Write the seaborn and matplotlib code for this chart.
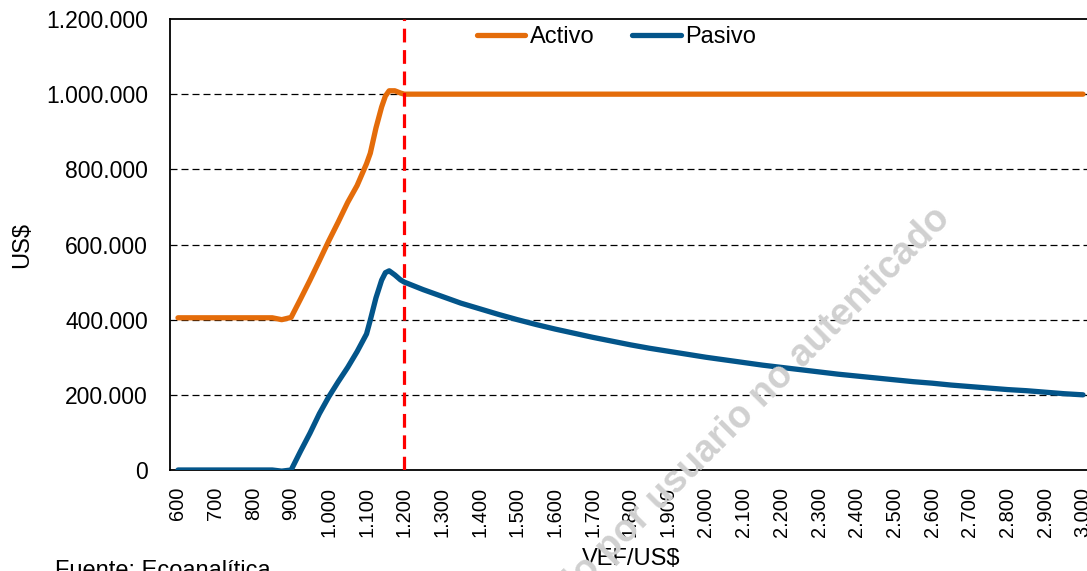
import numpy as np
import pandas as pd
import matplotlib
matplotlib.use("Agg")
import matplotlib.pyplot as plt
from matplotlib.ticker import FuncFormatter, FixedLocator
from matplotlib.lines import Line2D
import seaborn as sns

# ------------------ Datos ------------------
tipo_cambio = [600, 650, 700, 750, 800, 850, 875, 900, 925, 950, 975, 1000, 1025, 1050,
               1075, 1100, 1110, 1125, 1140, 1150, 1160, 1175, 1190, 1200, 1250, 1300,
               1350, 1400, 1450, 1500, 1550, 1600, 1650, 1700, 1750, 1800, 1850, 1900,
               1950, 2000, 2050, 2100, 2150, 2200, 2250, 2300, 2350, 2400, 2450, 2500,
               2550, 2600, 2650, 2700, 2750, 2800, 2850, 2900, 2950, 3000]

activo = [405000, 405000, 405000, 405000, 405000, 405000, 400000, 406000, 455000, 505000,
          557000, 610000, 660000, 712000, 757000, 815000, 843000, 910000, 966000, 995000,
          1009000, 1009000, 1003000, 1000000, 1000000, 1000000, 1000000, 1000000, 1000000,
          1000000, 1000000, 1000000, 1000000, 1000000, 1000000, 1000000, 1000000, 1000000,
          1000000, 1000000, 1000000, 1000000, 1000000, 1000000, 1000000, 1000000, 1000000,
          1000000, 1000000, 1000000, 1000000, 1000000, 1000000, 1000000, 1000000, 1000000,
          1000000, 1000000, 1000000, 1000000]

pasivo = [0, 0, 0, 0, 0, 0, -3000, 0, 50000, 98000, 150000, 195000, 235000, 273000,
          315000, 362000, 399000, 458000, 505000, 525000, 530000, 519000, 506000, 500000,
          480000, 462000, 444000, 429000, 414000, 400000, 387000, 375000, 364000, 353000,
          343000, 333000, 324000, 316000, 308000, 300000, 293000, 286000, 279000, 273000,
          267000, 261000, 255000, 250000, 245000, 240000, 235000, 231000, 226000, 222000,
          218000, 214000, 211000, 207000, 203000, 200000]

series = ["Activo", "Pasivo"]
colores = ["#E46C0A", "#03558A"]
x_ticks = [600, 700, 800, 900, 1000, 1100, 1200, 1300, 1400, 1500, 1600, 1700, 1800,
           1900, 2000, 2100, 2200, 2300, 2400, 2500, 2600, 2700, 2800, 2900, 3000]
y_ticks = [0, 200000, 400000, 600000, 800000, 1000000, 1200000]
umbral = 1200

# ------------------ Estilo ------------------
sns.set_style("white")
plt.rcParams['font.family'] = ['Liberation Sans', 'DejaVu Sans']
plt.rcParams['text.color'] = 'black'
plt.rcParams['axes.labelcolor'] = 'black'
plt.rcParams['xtick.color'] = 'black'
plt.rcParams['ytick.color'] = 'black'


def miles(v, pos=None):
    return f"{v:,.0f}".replace(",", ".")


df = pd.DataFrame({"VEF/US$": tipo_cambio + tipo_cambio,
                   "US$": activo + pasivo,
                   "serie": ["Activo"] * len(activo) + ["Pasivo"] * len(pasivo)})

fig = plt.figure(figsize=(10.87, 5.71), dpi=100)
ax = fig.add_axes([170 / 1087, 1 - 470 / 571, 917 / 1087, 451 / 571])

# grilla horizontal
for y in y_ticks[1:-1]:
    ax.axhline(y, color="black", lw=0.9, ls=(0, (5.6, 3.2)), zorder=1)

# marca de agua
fig.text(952 / 1087, 1 - 220 / 571, "Descargado por usuario no autenticado",
         rotation=45, rotation_mode="anchor", ha="right", va="baseline",
         fontsize=27, fontweight="bold", color="#d0d0d0", zorder=0)

sns.lineplot(data=df, x="VEF/US$", y="US$", hue="serie", hue_order=series,
             palette=colores, lw=3.8, legend=False, ax=ax, zorder=3,
             solid_capstyle="round", solid_joinstyle="round")

ax.axvline(umbral, color="#FF0000", lw=2.3, ls=(0, (4.3, 2.4)), zorder=4)

ax.set_xlim(578.8, 3010.6)
ax.set_ylim(0, 1200000)
ax.xaxis.set_major_locator(FixedLocator(x_ticks))
ax.yaxis.set_major_locator(FixedLocator(y_ticks))
ax.xaxis.set_major_formatter(FuncFormatter(miles))
ax.yaxis.set_major_formatter(FuncFormatter(miles))
ax.tick_params(axis="x", labelsize=14.4, rotation=90, length=0, pad=12)
ax.tick_params(axis="y", labelsize=16.5, length=0, pad=16)

for s in ["left", "bottom", "top"]:
    ax.spines[s].set_color("black")
    ax.spines[s].set_linewidth(1.3)
ax.spines["right"].set_visible(False)

ax.set_xlabel("VEF/US$", fontsize=17)
ax.set_ylabel("US$", fontsize=17)
ax.xaxis.set_label_coords(0.503, -0.172)
ax.yaxis.set_label_coords(-0.149, 0.499)

handles = [Line2D([0], [0], color=c, lw=3.8, solid_capstyle="round") for c in colores]
ax.legend(handles, series, loc="center", bbox_to_anchor=(0.487, 0.960), ncol=2,
          frameon=False, fontsize=17, handlelength=2.05, handletextpad=0.2,
          columnspacing=1.6, borderpad=0, borderaxespad=0)

fig.text(55 / 1087, 1 - 560 / 571, "Fuente: Ecoanalítica", fontsize=17,
         ha="left", va="top")

fig.savefig("out.png", dpi=100)
